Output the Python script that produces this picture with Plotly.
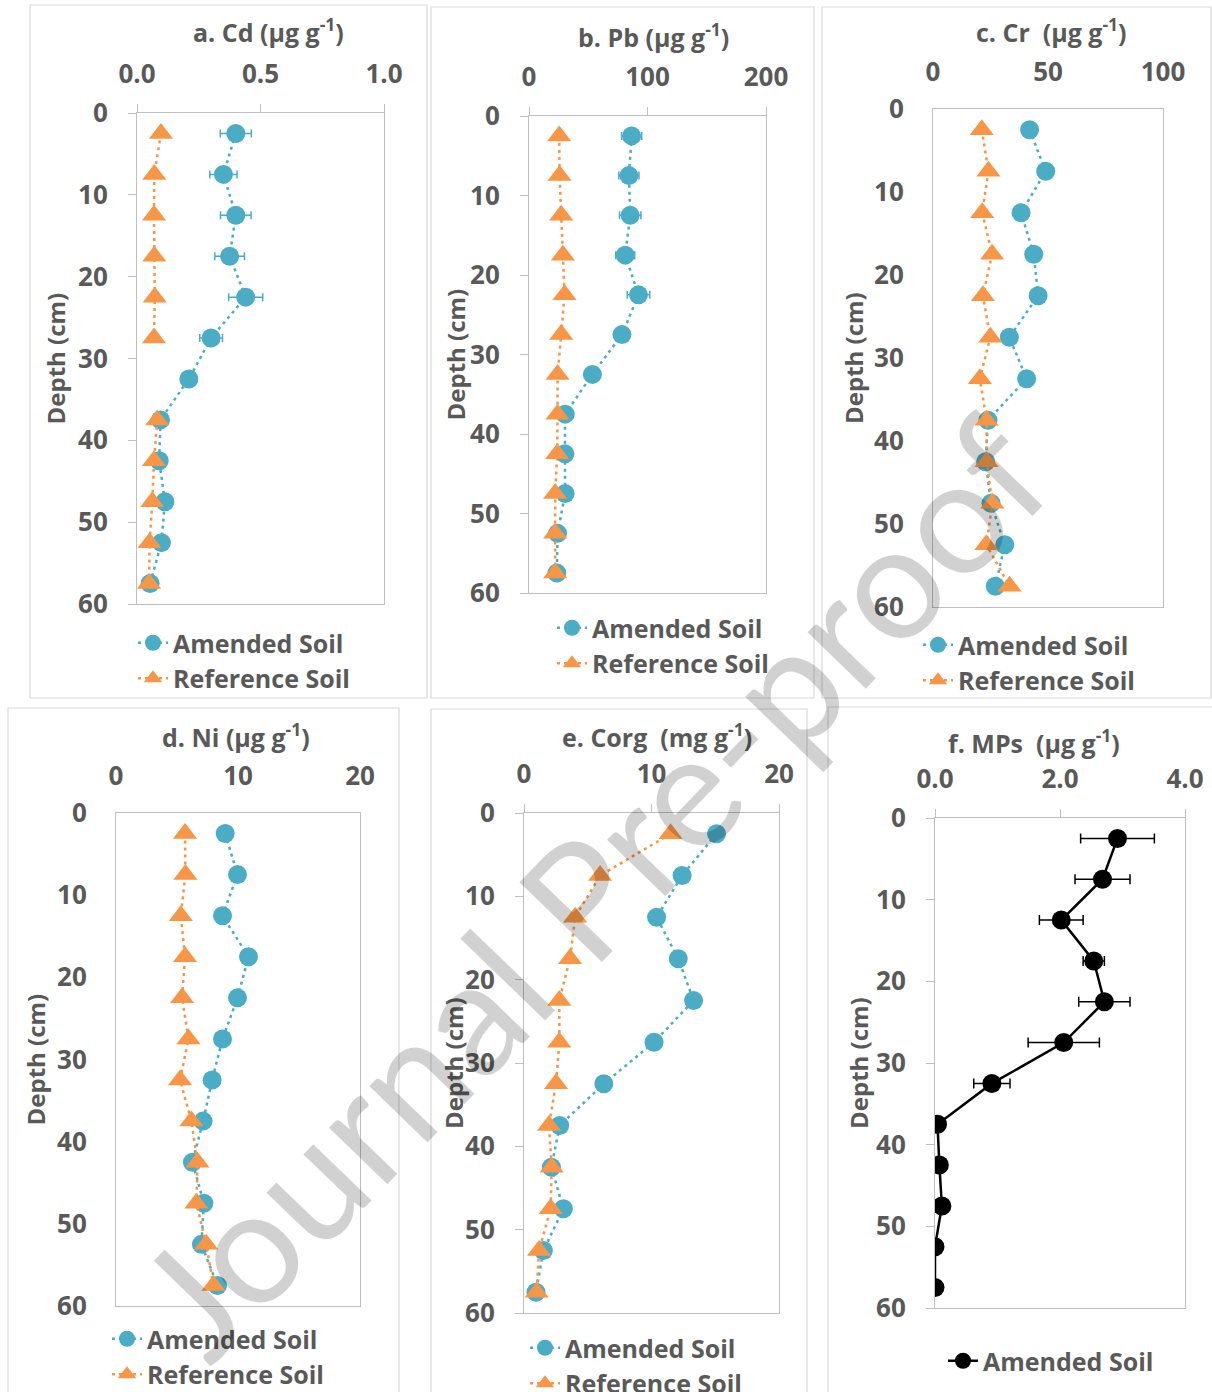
import plotly.graph_objects as go

W, H = 1212, 1392

# ---------------- data ----------------
depth = [2.5, 7.5, 12.5, 17.5, 22.5, 27.5, 32.5, 37.5, 42.5, 47.5, 52.5, 57.5]

cd_amended = [0.40, 0.35, 0.40, 0.375, 0.44, 0.30, 0.21, 0.095, 0.09, 0.113, 0.099, 0.053]
cd_amended_err = [0.063, 0.055, 0.062, 0.06, 0.069, 0.046, 0, 0, 0, 0, 0, 0]
cd_reference = [0.097, 0.070, 0.069, 0.070, 0.072, 0.069, None, 0.082, 0.069, 0.062, 0.051, 0.049]

pb_amended = [86.6, 84.3, 85.4, 81.2, 92.4, 78.4, 53.5, 30.5, 30.3, 30.5, 24.1, 23.5]
pb_amended_err = [8.5, 8.5, 9.0, 8.0, 9.5, 5.0, 0, 0, 0, 0, 0, 0]
pb_reference = [25.5, 25.8, 27.2, 28.6, 30.0, 27.2, 24.1, 24.1, 23.8, 22.1, 22.1, 22.1]

cr_amended = [42.0, 49.0, 38.3, 43.8, 45.7, 33.2, 40.7, 23.9, 22.9, 25.2, 31.2, 27.1]
cr_reference = [21.2, 24.1, 21.4, 25.7, 21.7, 24.9, 20.4, 23.3, 23.3, 25.8, 23.2, 33.3]

ni_amended = [8.95, 9.96, 8.73, 10.86, 9.96, 8.73, 7.88, 7.14, 6.27, 7.20, 7.00, 8.32]
ni_reference = [5.66, 5.69, 5.31, 5.66, 5.42, 5.94, 5.25, 6.18, 6.68, 6.59, 7.39, 7.99]

corg_amended = [15.1, 12.4, 10.4, 12.1, 13.3, 10.2, 6.26, 2.80, 2.15, 3.09, 1.52, 0.94]
corg_reference = [11.5, 5.97, 4.01, 3.61, 2.77, 2.77, 2.51, 1.96, 2.17, 2.09, 1.18, 0.99]

mps_amended = [2.92, 2.68, 2.02, 2.54, 2.71, 2.06, 0.91, 0.04, 0.07, 0.11, 0.0, 0.0]
mps_amended_err = [0.59, 0.44, 0.35, 0.17, 0.41, 0.57, 0.29, 0, 0, 0, 0, 0]

titles = ["a. Cd (µg g<sup>-1</sup>)", "b. Pb (µg g<sup>-1</sup>)", "c. Cr  (µg g<sup>-1</sup>)",
          "d. Ni (µg g<sup>-1</sup>)", "e. Corg  (mg g<sup>-1</sup>)", "f. MPs  (µg g<sup>-1</sup>)"]
y_title = "Depth (cm)"
amended_name = "Amended Soil"
reference_name = "Reference Soil"
watermark = "Journal Pre-proof"

# ---------------- styling / layout helpers ----------------
BLUE = "#4BACC6"
ORANGE = "#F79646"
GREY_TXT = "#595959"
FONT = "Open Sans"

panels = [
    dict(plot=(137, 384, 113, 604), box=(30, 427, 5, 698), rng=[0, 1], dtick=0.5, fmt=".1f", ticks=True,
         title_xy=(268, 30), ytitle_x=55, leg=(133, 620),
         amended=cd_amended, amended_err=cd_amended_err, reference=cd_reference),
    dict(plot=(529, 766, 116, 593), box=(431, 814, 7, 698), rng=[0, 200], dtick=100, fmt="d", ticks=True,
         title_xy=(653, 35), ytitle_x=455, leg=(552, 605),
         amended=pb_amended, amended_err=pb_amended_err, reference=pb_reference),
    dict(plot=(933, 1163, 109, 607), box=(822, 1211, 7, 698), rng=[0, 100], dtick=50, fmt="d", ticks=False,
         title_xy=(1051, 30), ytitle_x=853, leg=(918, 622),
         amended=cr_amended, amended_err=None, reference=cr_reference),
    dict(plot=(116, 360, 813, 1306), box=(8, 399, 708, 1400), rng=[0, 20], dtick=10, fmt="d", ticks=False,
         title_xy=(236, 735), ytitle_x=35, leg=(107, 1316),
         amended=ni_amended, amended_err=None, reference=ni_reference),
    dict(plot=(524, 779, 813, 1313), box=(431, 807, 709, 1400), rng=[0, 20], dtick=10, fmt="d", ticks=True,
         title_xy=(657, 735), ytitle_x=453, leg=(525, 1325),
         amended=corg_amended, amended_err=None, reference=corg_reference),
    dict(plot=(935, 1185, 818, 1308), box=(828, 1220, 707, 1400), rng=[0, 4], dtick=2, fmt=".1f", ticks=True,
         title_xy=(1034, 741), ytitle_x=858, leg=(943, 1338),
         amended=mps_amended, amended_err=mps_amended_err, reference=None),
]


def px_x(v):
    return v / W


def px_y(v):
    return 1 - v / H


fig = go.Figure()
layout = dict(
    width=W, height=H,
    margin=dict(l=0, r=0, t=0, b=0, autoexpand=False),
    paper_bgcolor="white", plot_bgcolor="white",
    showlegend=True,
    font=dict(family=FONT, color=GREY_TXT),
)
shapes = []
annotations = []

tickfont = dict(family=FONT, size=26, color=GREY_TXT, weight="bold")

for i, p in enumerate(panels):
    n = i + 1
    sx = "" if n == 1 else str(n)
    xref, yref = "x" + sx, "y" + sx
    legname = "legend" + sx
    x0, x1, y0, y1 = p["plot"]

    layout["xaxis" + sx] = dict(
        domain=[px_x(x0), px_x(x1)], range=p["rng"], dtick=p["dtick"], tickformat=p["fmt"],
        side="top", anchor=yref, showline=True, mirror=True, linecolor="#bfbfbf", linewidth=1,
        ticks="outside" if p["ticks"] else "", ticklen=8, tickcolor="#bfbfbf", tickwidth=1,
        showgrid=False, zeroline=False, tickfont=tickfont, automargin=False,
        ticklabelstandoff=11 if p["ticks"] else 17,
    )
    layout["yaxis" + sx] = dict(
        domain=[px_y(y1), px_y(y0)], range=[60, 0], dtick=10, anchor=xref,
        showline=True, mirror=True, linecolor="#bfbfbf", linewidth=1,
        ticks="outside" if p["ticks"] else "", ticklen=8, tickcolor="#bfbfbf", tickwidth=1,
        showgrid=False, zeroline=False, tickfont=tickfont, automargin=False,
        ticklabelstandoff=15 if p["ticks"] else 23,
    )

    if p["reference"] is None:
        fig.add_trace(go.Scatter(
            x=p["amended"], y=depth, name=amended_name, mode="lines+markers",
            xaxis=xref, yaxis=yref, legend=legname,
            line=dict(color="black", width=2.5),
            marker=dict(symbol="circle", size=19, color="black"),
            error_x=dict(type="data", array=p["amended_err"], visible=True,
                         color="black", thickness=1.5, width=5),
        ))
    else:
        err = None
        if p["amended_err"] is not None:
            err = dict(type="data", array=p["amended_err"], visible=True,
                       color=BLUE, thickness=1.5, width=4)
        fig.add_trace(go.Scatter(
            x=p["amended"], y=depth, name=amended_name, mode="lines+markers",
            xaxis=xref, yaxis=yref, legend=legname, legendgroup="a" + sx,
            line=dict(color=BLUE, width=2.5, dash="3px,4px"),
            marker=dict(symbol="circle", size=19, color=BLUE),
            error_x=err,
        ))
        fig.add_trace(go.Scatter(
            x=p["reference"], y=depth, name=reference_name, mode="lines+markers",
            xaxis=xref, yaxis=yref, legend=legname, legendgroup="r" + sx,
            line=dict(color=ORANGE, width=2.5, dash="3px,4px"),
            marker=dict(symbol="triangle-up", size=21, color=ORANGE),
            connectgaps=False,
        ))

    lx, ly = p["leg"]
    layout[legname] = dict(
        x=px_x(lx), y=px_y(ly), xanchor="left", yanchor="top",
        bgcolor="rgba(0,0,0,0)", borderwidth=0, tracegroupgap=0,
        font=dict(family=FONT, size=25, color=GREY_TXT, weight="bold"),
        traceorder="grouped",
    )

    bx0, bx1, by0, by1 = p["box"]
    shapes.append(dict(type="rect", xref="paper", yref="paper",
                       x0=px_x(bx0), x1=px_x(bx1), y0=px_y(by1), y1=px_y(by0),
                       line=dict(color="#d9d9d9", width=1.2), fillcolor="rgba(0,0,0,0)", layer="below"))

    tx, ty = p["title_xy"]
    annotations.append(dict(text="<b>" + titles[i] + "</b>", x=px_x(tx), y=px_y(ty), xref="paper", yref="paper",
                            showarrow=False, xanchor="center", yanchor="middle",
                            font=dict(family=FONT, size=25, color=GREY_TXT)))
    annotations.append(dict(text="<b>" + y_title + "</b>", x=px_x(p["ytitle_x"]), y=px_y((y0 + y1) / 2),
                            xref="paper", yref="paper", showarrow=False, textangle=-90,
                            xanchor="center", yanchor="middle",
                            font=dict(family=FONT, size=24, color=GREY_TXT)))

annotations.append(dict(text=watermark, x=px_x(590), y=px_y(885), xref="paper", yref="paper",
                        showarrow=False, textangle=-46, xanchor="center", yanchor="middle",
                        font=dict(family="Lato", size=160, color="rgba(0,0,0,0.18)")))

layout["shapes"] = shapes
layout["annotations"] = annotations
fig.update_layout(**layout)

fig.write_html(
    "out.html",
    config={"displayModeBar": False},
    post_script="document.body.style.margin='0';document.body.style.overflow='hidden';"
                "document.documentElement.style.overflow='hidden';",
)
